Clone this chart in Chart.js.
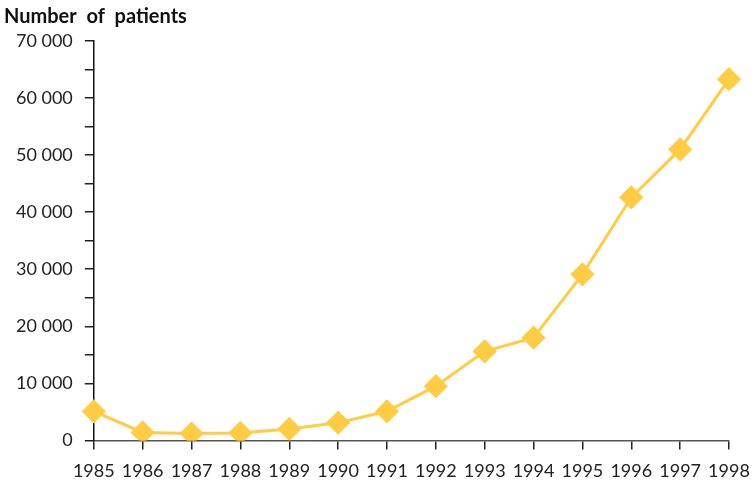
<!DOCTYPE html>
<html>
<head>
<meta charset="utf-8">
<script src="https://cdn.jsdelivr.net/npm/chart.js@4"></script>
<style>
html,body{margin:0;padding:0;background:#fff;}
#wrap{width:755px;height:482px;position:relative;}
</style>
</head>
<body>
<div id="wrap"><canvas id="c" width="755" height="482"></canvas></div>
<script>
const years = ['1985','1986','1987','1988','1989','1990','1991','1992','1993','1994','1995','1996','1997','1998'];
const patients = [5100, 1400, 1200, 1300, 2000, 3100, 5100, 9500, 15600, 18000, 29100, 42600, 51000, 63300];
const yMin = 0, yMax = 70000, yStep = 5000;

function fmt(v){ return String(v).replace(/\B(?=(\d{3})+(?!\d))/g, ' '); }

new Chart(document.getElementById('c'), {
  type: 'line',
  data: {
    labels: years,
    datasets: [{
      data: patients,
      borderColor: '#FFCC44',
      backgroundColor: '#FFCC44',
      borderWidth: 3,
      pointStyle: 'rectRot',
      pointRadius: 10,
      pointHoverRadius: 10,
      tension: 0
    }]
  },
  options: {
    responsive: false,
    animation: false,
    layout: { padding: { left: 4, right: 0, top: 3, bottom: -11 } },
    plugins: {
      legend: { display: false },
      tooltip: { enabled: false },
      title: {
        display: true,
        text: 'Number  of  patients',
        align: 'start',
        color: '#111',
        font: { family: 'Lato', size: 20, weight: 'bold' },
        padding: { top: 2, bottom: 12 }
      }
    },
    scales: {
      x: {
        type: 'category',
        offset: false,
        afterFit: function(s){ s.paddingRight = 26; },
        grid: { drawOnChartArea: false, drawTicks: true, tickLength: 9, color: '#222', lineWidth: 1.5 },
        border: { display: true, color: '#555', width: 1.5 },
        ticks: { color: '#222', font: { family: 'Lato', size: 18 }, padding: 11, maxRotation: 0, autoSkip: false }
      },
      y: {
        min: yMin, max: yMax,
        grid: { drawOnChartArea: false, drawTicks: true, tickLength: 9, color: '#222', lineWidth: 1.5 },
        border: { display: true, color: '#111', width: 1.5 },
        ticks: {
          stepSize: yStep,
          color: '#222',
          font: { family: 'Lato', size: 18 },
          padding: 12,
          callback: function(v){ return (v % 10000 === 0) ? fmt(v) : ''; }
        }
      }
    }
  }
});
</script>
</body>
</html>
